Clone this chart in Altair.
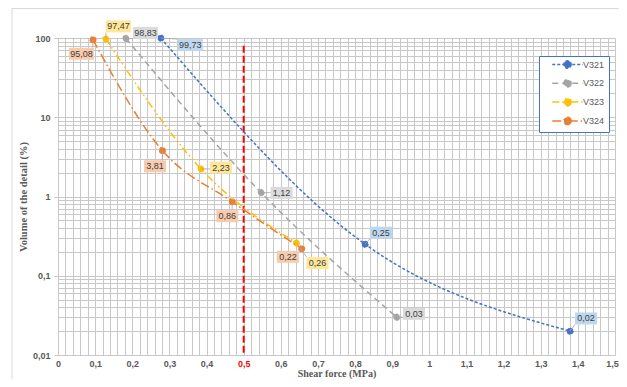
import altair as alt
import pandas as pd

# ---------------- data ----------------
series = ["V321", "V322", "V323", "V324"]

v321_x = [0.277, 0.827, 1.379]
v321_y = [99.73, 0.25, 0.02]
v322_x = [0.183, 0.547, 0.912]
v322_y = [98.83, 1.12, 0.03]
v323_x = [0.129, 0.385, 0.642]
v323_y = [97.47, 2.23, 0.26]
v324_x = [0.094, 0.281, 0.469, 0.656]
v324_y = [95.08, 3.81, 0.86, 0.22]

limit_x = [0.5]
limit_top = [80]
limit_bottom = [0.01]

x_ticks = [round(i * 0.02, 2) for i in range(76)]
y_major = [0.01, 0.1, 1, 10, 100]
y_major_labels = ["0,01", "0,1", "1", "10", "100"]
y_ticks = sorted(set([round(k * m, 4) for m in y_major[:-1] for k in range(1, 10)] + [100]))

# ---------------- style ----------------
line_colors = ["#4472C4", "#A5A5A5", "#FFC000", "#ED7D31"]
box_colors = ["#BDD7EE", "#DBDBDB", "#FFE699", "#F8CBAD"]
dashes = [[3, 2], [6, 4], [7, 3, 1.5, 3, 1.5, 3], [9, 3, 1.5, 3]]
# pixel offsets of data-label boxes from their points (per point, series order)
label_dx = [29.5, 16, 16, 19.5, 20.5, 17.3, 12.5, 20, 21.2, -11.5, -7.3, -4.8, -13.7]
label_dy = [7, -11.5, -12.7, -5.5, 0.3, -3.3, -12.5, -1.3, 20.2, 14, 15.8, 14.5, 8.2]
BOX_H = 12
GRID = "#C8C8C8"
TXT = "#595959"

rows = []
for s, xs, ys in zip(series, [v321_x, v322_x, v323_x, v324_x], [v321_y, v322_y, v323_y, v324_y]):
    for x, y in zip(xs, ys):
        rows.append({"series": s, "force": x, "volume": y, "label": f"{y:.2f}".replace(".", ",")})

for i, r in enumerate(rows):
    w = 25 if len(r["label"]) >= 5 else 22
    x0, x1 = label_dx[i] - w / 2, label_dx[i] + w / 2
    y0, y1 = label_dy[i] - BOX_H / 2, label_dy[i] + BOX_H / 2
    r["idx"] = i
    r["box"] = f"M{x0:.1f},{y0:.1f}H{x1:.1f}V{y1:.1f}H{x0:.1f}Z"
    ex = min(max(0, x0), x1)
    ey = min(max(0, y0), y1)
    r["leader"] = f"M0,0L{ex:.1f},{ey:.1f}"

df = pd.DataFrame(rows)
limit_df = pd.DataFrame({"x": limit_x, "top": limit_top, "bottom": limit_bottom})

x_label_expr = ("abs(datum.value*10 - round(datum.value*10)) < 0.001 ? "
                "replace(format(datum.value, '~g'), '.', ',') : ''")
y_label_expr = " : ".join(
    f"datum.value == {v} ? '{l}'" for v, l in zip(y_major, y_major_labels)) + " : ''"
y_major_test = " || ".join(f"datum.value == {v}" for v in y_major)

x_scale = alt.Scale(domain=[0, 1.5], nice=False, zero=False)
y_scale = alt.Scale(type="log", domain=[0.01, 100], nice=False)

x_axis = alt.Axis(
    values=x_ticks, labelExpr=x_label_expr, title="Shear force (MPa)",
    grid=True, gridColor=GRID, gridWidth=1, domain=False, ticks=False,
    labelPadding=4.5, labelOverlap=False, labelFlush=False,
    labelOffset={"condition": {"test": "datum.value >= 1.49", "value": -3}, "value": 0},
    labelFont="Liberation Sans", labelFontSize=9, labelFontWeight="bold",
    labelColor={"condition": {"test": "abs(datum.value - 0.5) < 0.001", "value": "#FF0000"}, "value": TXT},
    titleFont="Liberation Serif", titleFontSize=10, titleFontWeight="bold", titleColor=TXT,
    titleY=21, titleBaseline="alphabetic",
)
y_axis = alt.Axis(
    values=y_ticks, labelExpr=y_label_expr, title="Volume of the detail (%)",
    grid=True, gridColor=GRID, gridWidth=1, domain=False,
    tickSize=4, tickColor=GRID,
    tickOpacity={"condition": {"test": y_major_test, "value": 1}, "value": 0},
    labelPadding=4, labelOverlap=False, labelFlush=False,
    labelFont="Liberation Sans", labelFontSize=9, labelFontWeight="bold", labelColor=TXT,
    titleFont="Liberation Serif", titleFontSize=10.5, titleFontWeight="bold", titleColor=TXT,
    titleX=-35, titleY=158.5, titleBaseline="middle", titleAngle=270,
)

X = alt.X("force:Q", scale=x_scale, axis=x_axis)
Y = alt.Y("volume:Q", scale=y_scale, axis=y_axis)

color_scale = alt.Scale(domain=series, range=line_colors)
dash_scale = alt.Scale(domain=series, range=dashes)

legend = alt.Legend(
    orient="none", legendX=481, legendY=18, title=None,
    symbolType="M-4.6,0H4.6M1.1,0A1.1,1.1,0,1,1,-1.1,0A1.1,1.1,0,1,1,1.1,0Z",
    symbolSize=44, symbolStrokeWidth=1.5, symbolOffset=20,
    labelOffset=11, labelFont="Liberation Sans", labelFontSize=9, labelColor=TXT,
    labelExpr="datum.label + '    '",
    rowPadding=3.8, padding=4, strokeColor="#4472C4", fillColor="white",
)

base = alt.Chart(df)

border_left = alt.Chart(limit_df).mark_rule(color="#D9D9D9", strokeWidth=1).encode(
    x=alt.value(-46), y=alt.value(-30), y2=alt.value(345))
border_top = alt.Chart(limit_df).mark_rule(color="#D9D9D9", strokeWidth=1).encode(
    x=alt.value(-46), x2=alt.value(575), y=alt.value(-29.5))

limit_rule = alt.Chart(limit_df).mark_rule(color="#FF0000", strokeWidth=2, strokeDash=[7, 3]).encode(
    x=alt.X("x:Q", scale=x_scale, axis=x_axis),
    y=alt.Y("top:Q", scale=y_scale, axis=y_axis),
    y2="bottom:Q",
)

points = base.mark_point(filled=True, size=40, opacity=1, strokeWidth=1).encode(
    x=X, y=Y,
    color=alt.Color("series:N", scale=color_scale, legend=legend),
    stroke=alt.Stroke("series:N", scale=color_scale, legend=legend),
    strokeDash=alt.StrokeDash("series:N", scale=dash_scale, legend=legend),
)

lines = base.mark_line(strokeWidth=1.5, interpolate="monotone").encode(
    x=X, y=Y,
    color=alt.Color("series:N", scale=color_scale),
    strokeDash=alt.StrokeDash("series:N", scale=dash_scale),
    detail="series:N",
)

leaders = base.mark_point(filled=False, size=4, stroke="#A6A6A6", strokeWidth=0.8, opacity=1).encode(
    x=X, y=Y, shape=alt.Shape("leader:N", scale=None, legend=None))

boxes = base.mark_point(filled=True, size=4, opacity=1, strokeWidth=0).encode(
    x=X, y=Y,
    shape=alt.Shape("box:N", scale=None, legend=None),
    fill=alt.Fill("series:N", scale=alt.Scale(domain=series, range=box_colors), legend=None),
)

texts = []
for i in range(len(rows)):
    texts.append(
        base.transform_filter(alt.datum.idx == i).mark_text(
            dx=label_dx[i], dy=label_dy[i], align="center", baseline="middle",
            font="Liberation Sans", fontSize=9, color="#404040",
        ).encode(x=X, y=Y, text="label:N")
    )

chart = alt.layer(
    border_left, border_top, limit_rule, points, lines, leaders, boxes, *texts
).properties(
    width=557, height=317,
    autosize=alt.AutoSizeParams(type="none"),
    padding={"left": 50, "top": 30, "right": 4, "bottom": 24},
).configure_view(stroke=None)

chart.save("out.html", embed_options={"renderer": "svg", "actions": False})
